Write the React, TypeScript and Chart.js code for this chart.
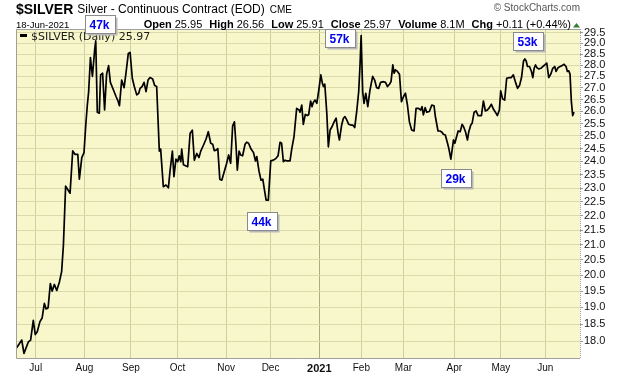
import React, { useEffect, useRef } from "react";
import { Chart, registerables } from "chart.js";

Chart.register(...registerables);

// ---- Data ----
// x = trading-day index counted from 18-Jun-2020 (0) to 18-Jun-2021 (252)
const tradingDay = [
  0.4, 2.7, 3.7, 5.7, 6.7, 7.9, 8.8, 9.7, 10.9, 11.9,
  12.9, 13.7, 14.6, 15.6, 16.4, 17.4, 18.5, 19.7, 20.7, 21.5,
  22.5, 24.5, 25.7, 26.8, 28.0, 28.7, 29.8, 30.8, 31.6, 32.3,
  32.9, 33.7, 34.6, 35.6, 36.1, 36.8, 37.7, 38.3, 39.2, 40.1,
  41.0, 41.9, 42.7, 44.1, 45.3, 46.0, 46.8, 47.8, 48.9, 49.8,
  50.8, 51.6, 52.6, 53.5, 54.6, 55.5, 56.1, 57.0, 57.9, 58.8,
  59.7, 60.6,
  61.8, 62.7, 63.6, 64.8, 65.4, 66.6, 67.8, 68.9, 69.6, 70.7,
  71.4, 72.3, 73.1, 73.8, 74.5, 74.9, 75.7, 77.6, 78.7, 79.7,
  80.6, 81.7, 82.7, 83.5, 84.7, 85.9, 86.9, 88.0, 88.9, 89.6,
  90.4, 91.2, 92.1, 93.0, 94.0, 95.2, 96.1, 97.0, 97.9, 98.7,
  99.4, 100.0, 100.8, 101.5, 102.4, 103.5, 104.2, 105.1, 106.2, 107.3,
  108.2, 108.8, 109.8, 110.7, 111.5, 112.2, 113.0, 114.0, 115.1, 116.3,
  117.5, 118.4, 119.3, 120.0, 120.8, 121.6, 122.3, 123.8,
  124.6, 125.6, 126.8, 127.9, 128.3, 129.1, 129.8, 130.7, 131.6, 132.2,
  133.1, 133.7, 134.3, 135.1, 135.9, 136.8, 137.7, 138.4, 138.9, 139.5,
  140.4, 141.1, 141.9, 142.8, 143.7, 144.6, 145.5, 146.1, 147.1, 147.9,
  148.6, 149.4, 150.3, 151.2, 152.1, 153.0, 153.9, 154.8, 155.4, 155.9,
  156.6, 157.2, 158.0, 158.9, 159.9, 161.1, 162.0, 162.9, 163.8, 164.7,
  166.0, 166.9, 167.8, 168.7, 169.4, 170.2, 170.8, 171.4, 172.3, 173.2,
  174.1, 175.0, 175.9, 176.8, 177.7, 178.7, 179.8, 180.7, 181.8, 182.8,
  183.4, 184.0, 184.8, 185.5, 186.7,
  187.8, 188.8, 189.4, 190.6, 191.5, 192.4, 193.0, 193.9, 194.9, 195.5,
  196.4, 197.6, 198.2, 198.8, 199.7, 200.6, 201.5, 202.1, 203.0, 203.9,
  204.5, 205.4, 206.0, 206.9, 207.8, 208.7, 210.2, 211.1, 212.0, 212.9,
  213.8, 214.7, 215.6, 216.5, 217.4, 218.3, 218.9, 219.8, 220.7, 221.6,
  222.8, 223.7, 224.6, 225.6, 226.5, 227.4, 228.3, 229.2, 229.8, 230.4,
  231.0, 231.9, 232.8, 233.4, 234.0, 234.6, 235.2, 236.1, 237.0, 237.9,
  238.8, 239.7, 240.6, 241.5, 242.4, 243.3, 243.9, 244.8, 245.7, 246.6,
  247.5, 248.4, 249.0, 249.6, 250.2, 250.8, 251.4, 252.0,
];

const closes = [
  17.81, 18.03, 17.65, 17.98, 18.03, 18.61, 18.19, 18.27, 18.57, 18.68,
  19.12, 18.95, 18.99, 19.74, 19.50, 19.71, 19.52, 19.79, 20.12, 20.99,
  23.07, 22.81, 24.41, 24.27, 24.27, 23.33, 24.15, 24.34, 25.44, 26.27,
  26.84, 28.34, 27.50, 28.69, 29.11, 25.97, 25.93, 27.57, 27.64, 26.06,
  27.60, 27.98, 27.24, 26.91, 26.62, 26.48, 26.24, 27.34, 27.01, 27.69,
  28.53, 28.58, 27.42, 27.06, 26.70, 26.77, 26.98, 27.06, 27.24, 26.84,
  27.34, 27.45,
  27.39, 27.10, 27.06, 24.40, 24.48, 23.05, 23.11, 23.01, 23.61, 24.40,
  23.42, 24.09, 23.99, 24.22, 23.99, 24.48, 23.87, 23.80, 25.11, 25.23,
  24.05, 24.31, 24.15, 24.40, 24.63, 24.88, 25.17, 24.71, 24.67, 24.42,
  24.44, 24.50, 23.33, 23.29, 23.58, 23.93, 24.25, 23.93, 25.41, 25.57,
  24.65, 23.67, 24.40, 24.25, 24.22, 24.67, 24.75, 24.71, 24.48, 24.35,
  24.02, 24.19, 23.63, 23.29, 23.33, 22.96, 22.56, 22.56, 24.02, 24.05,
  24.12, 24.22, 24.75, 24.71, 23.99, 24.05, 24.02, 24.02,
  24.50, 24.97, 26.13, 26.06, 25.97, 26.27, 25.47, 25.88, 25.83, 25.86,
  26.44, 26.20, 26.38, 26.48, 26.34, 26.91, 27.57, 27.20, 27.06, 27.16,
  25.93, 24.57, 25.24, 25.38, 25.57, 25.72, 25.11, 24.84, 25.44, 25.72,
  25.79, 25.65, 25.47, 25.44, 25.44, 25.34, 26.00, 26.84, 28.01, 29.36,
  26.84, 26.34, 26.77, 26.20, 26.91, 27.50, 27.34, 27.01, 26.98, 27.24,
  27.27, 27.24, 27.06, 27.16, 27.27, 28.01, 27.64, 27.79, 27.72, 27.60,
  26.41, 26.62, 26.77, 26.27, 25.57, 25.24, 25.20, 26.13, 26.13, 26.06,
  26.20, 25.86, 26.16, 25.97, 26.00,
  26.27, 26.24, 25.79, 25.20, 25.20, 25.15, 25.07, 25.04, 24.71, 24.50,
  24.09, 24.84, 24.71, 24.91, 25.20, 25.17, 25.47, 25.38, 25.17, 24.84,
  25.17, 25.44, 25.51, 25.97, 26.02, 25.83, 25.83, 26.44, 26.02, 26.06,
  26.16, 26.30, 26.10, 25.97, 25.83, 26.06, 26.87, 26.52, 26.48, 27.42,
  27.45, 27.45, 27.57, 27.24, 26.98, 27.10, 27.45, 28.19, 28.28, 28.19,
  27.94, 27.94, 27.72, 27.45, 27.86, 28.01, 27.89, 27.83, 27.86, 27.94,
  28.01, 28.09, 27.45, 27.60, 27.86, 27.94, 27.72, 27.89, 27.94, 27.98,
  28.04, 27.94, 27.72, 27.75, 27.60, 26.41, 25.83, 25.97,
];

const monthStartDay = [9, 31, 52, 73, 95, 115, 137, 156, 175, 198, 219, 239];
const monthLabels = ["Jul", "Aug", "Sep", "Oct", "Nov", "Dec", "2021", "Feb", "Mar", "Apr", "May", "Jun"];
const yearLabel = "2021";

const priceTicks = [
  18.0, 18.5, 19.0, 19.5, 20.0, 20.5, 21.0, 21.5, 22.0, 22.5, 23.0, 23.5,
  24.0, 24.5, 25.0, 25.5, 26.0, 26.5, 27.0, 27.5, 28.0, 28.5, 29.0, 29.5,
];

// volume call-outs anchored at swing points
const volumeLabels = ["47k", "44k", "57k", "29k", "53k"];
const volumeDay = [36.1, 113.5, 155.9, 196.4, 229.8];
const volumePrice = [29.11, 22.56, 29.36, 24.09, 28.28];
// box offsets (px) from the anchor — styling only
const boxDX = [-11, -20, -36, -10, -12];
const boxDY = [-26, 12, -7, 10, -27];

const symbol = "$SILVER";
const title = "Silver - Continuous Contract (EOD)";
const exchange = "CME";
const dateLabel = "18-Jun-2021";
const quoteLabels = ["Open", "High", "Low", "Close", "Volume", "Chg"];
const quoteValues = ["25.95", "26.56", "25.91", "25.97", "8.1M", "+0.11 (+0.44%)"];
const legendText = "$SILVER (Daily) 25.97";
const copyright = "\u00A9 StockCharts.com";

const SANS = '"Liberation Sans", Arial, sans-serif';
const PLOT_BG = "#f8f7cb";
const H_GRID = "#dadaab";
const V_GRID = "#cdd19f";
const YEAR_GRID = "#a9af7c";
const FRAME = "#a0a0a0";

export default function App() {
  const ref = useRef<HTMLCanvasElement>(null);

  useEffect(() => {
    document.body.style.margin = "0";
    const canvas = ref.current;
    if (!canvas) return;

    const overlay = {
      id: "overlay",
      beforeDraw(chart: any) {
        const { ctx, chartArea: a } = chart;
        ctx.save();
        ctx.fillStyle = "#ffffff";
        ctx.fillRect(0, 0, chart.width, chart.height);
        ctx.fillStyle = PLOT_BG;
        ctx.fillRect(a.left, a.top, a.right - a.left, a.bottom - a.top);
        ctx.restore();
      },
      afterDatasetsDraw(chart: any) {
        const { ctx, chartArea: a, scales } = chart;
        const xs = scales.x;
        const ys = scales.y;
        ctx.save();

        // frame
        ctx.strokeStyle = FRAME;
        ctx.lineWidth = 1;
        ctx.beginPath();
        ctx.moveTo(a.left + 0.5, a.top + 0.5);
        ctx.lineTo(a.right, a.top + 0.5);
        ctx.moveTo(a.left + 0.5, a.top);
        ctx.lineTo(a.left + 0.5, a.bottom + 0.5);
        ctx.lineTo(a.right, a.bottom + 0.5);
        ctx.stroke();
        ctx.setLineDash([1, 1]);
        ctx.beginPath();
        ctx.moveTo(a.right + 0.5, a.top);
        ctx.lineTo(a.right + 0.5, a.bottom + 1);
        ctx.stroke();
        ctx.setLineDash([]);

        // legend
        ctx.strokeStyle = "#000";
        ctx.lineWidth = 3;
        ctx.beginPath();
        ctx.moveTo(a.left + 4, a.top + 6.5);
        ctx.lineTo(a.left + 11, a.top + 6.5);
        ctx.stroke();
        ctx.fillStyle = "#1a1a1a";
        ctx.font = '11px "DejaVu Sans", sans-serif';
        ctx.textBaseline = "alphabetic";
        ctx.fillText(legendText, a.left + 15, a.top + 10.5);

        // header
        ctx.fillStyle = "#000";
        ctx.font = `bold 14px ${SANS}`;
        ctx.fillText(symbol, 16, 14);
        let x = 16 + ctx.measureText(symbol).width + 4;
        ctx.font = `12px ${SANS}`;
        ctx.fillText(title, x, 13);
        x += ctx.measureText(title).width + 5;
        ctx.font = `10px ${SANS}`;
        ctx.fillText(exchange, x, 13);

        ctx.font = `9.5px ${SANS}`;
        ctx.fillText(dateLabel, 16, 28);

        const boldF = `bold 11px ${SANS}`;
        const regF = `11px ${SANS}`;
        const gapIn = 3;
        const gapOut = 7;
        let total = 0;
        quoteLabels.forEach((lab, i) => {
          ctx.font = boldF;
          total += ctx.measureText(lab).width + gapIn;
          ctx.font = regF;
          total += ctx.measureText(quoteValues[i]).width;
          if (i < quoteLabels.length - 1) total += gapOut;
        });
        let qx = 571 - total;
        quoteLabels.forEach((lab, i) => {
          ctx.font = boldF;
          ctx.fillText(lab, qx, 28);
          qx += ctx.measureText(lab).width + gapIn;
          ctx.font = regF;
          ctx.fillText(quoteValues[i], qx, 28);
          qx += ctx.measureText(quoteValues[i]).width + gapOut;
        });
        // up triangle
        ctx.fillStyle = "#2f7d32";
        ctx.beginPath();
        ctx.moveTo(573, 27.5);
        ctx.lineTo(580, 27.5);
        ctx.lineTo(576.5, 23);
        ctx.closePath();
        ctx.fill();

        ctx.fillStyle = "#555";
        ctx.font = `10px ${SANS}`;
        ctx.textAlign = "right";
        ctx.fillText(copyright, 580, 11);
        ctx.textAlign = "left";

        // volume call-out boxes
        volumeLabels.forEach((lab, i) => {
          const px = xs.getPixelForValue(volumeDay[i]);
          const py = ys.getPixelForValue(volumePrice[i]);
          const bx = Math.round(px + boxDX[i]) + 0.5;
          const by = Math.round(py + boxDY[i]) + 0.5;
          const bw = 30;
          const bh = 18;
          ctx.fillStyle = "#b8b8b8";
          ctx.fillRect(bx + 2, by + 2, bw, bh);
          ctx.fillStyle = "#ffffff";
          ctx.fillRect(bx, by, bw, bh);
          ctx.strokeStyle = "#8a8a8a";
          ctx.lineWidth = 1;
          ctx.strokeRect(bx, by, bw, bh);
          ctx.fillStyle = "#0000ee";
          ctx.font = `bold 12px ${SANS}`;
          ctx.fillText(lab, bx + 4, by + 13.5);
        });

        ctx.restore();
      },
    };

    const chart = new Chart(canvas, {
      type: "line",
      data: {
        datasets: [
          {
            data: tradingDay.map((d, i) => ({ x: d, y: closes[i] })),
            borderColor: "#000000",
            borderWidth: 1.7,
            pointRadius: 0,
            tension: 0,
            borderJoinStyle: "round",
          },
        ],
      },
      options: {
        responsive: false,
        animation: false,
        events: [],
        layout: { padding: { left: 16, top: 29, right: 0, bottom: 0 } },
        plugins: { legend: { display: false }, tooltip: { enabled: false } },
        scales: {
          x: {
            type: "linear",
            min: 0.1,
            max: 254.7,
            afterBuildTicks: (scale: any) => {
              scale.ticks = monthStartDay.map((v) => ({ value: v }));
            },
            afterFit: (scale: any) => {
              scale.height = 18;
            },
            border: { display: false },
            grid: {
              drawTicks: false,
              color: (c: any) => (monthLabels[c.index] === yearLabel ? YEAR_GRID : V_GRID),
              lineWidth: 1,
            },
            ticks: {
              autoSkip: false,
              maxRotation: 0,
              padding: 4,
              color: "#111",
              callback: (_v: any, i: number) => monthLabels[i],
              font: (c: any) =>
                monthLabels[c.index] === yearLabel
                  ? { family: SANS, size: 11, weight: "bold" }
                  : { family: SANS, size: 10 },
            },
          },
          y: {
            type: "logarithmic",
            position: "right",
            min: 17.52,
            max: 29.67,
            afterBuildTicks: (scale: any) => {
              scale.ticks = priceTicks.map((v) => ({ value: v }));
            },
            afterFit: (scale: any) => {
              scale.width = 40;
            },
            border: { display: false },
            grid: {
              color: H_GRID,
              drawTicks: true,
              tickLength: 3,
              tickColor: "#9a9a9a",
            },
            ticks: {
              autoSkip: false,
              padding: 1,
              color: "#111",
              font: { family: SANS, size: 11 },
              callback: (v: any) => Number(v).toFixed(1),
            },
          },
        },
      },
      plugins: [overlay],
    } as any);

    return () => chart.destroy();
  }, []);

  return <canvas ref={ref} width={620} height={376} style={{ display: "block" }} />;
}
